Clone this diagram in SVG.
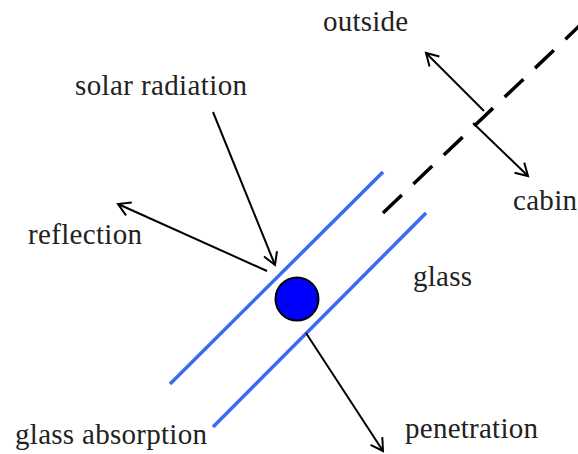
<svg xmlns="http://www.w3.org/2000/svg" width="578" height="454" viewBox="0 0 578 454">
<style>
text{font-family:"Liberation Serif","Times New Roman",serif;font-size:29px;fill:#222}
.arr{stroke:#000;stroke-width:2;fill:none;marker-end:url(#ah)}
.glass{stroke:#3a6af0;stroke-width:3.5;fill:none}
</style>
<defs>
<marker id="ah" markerUnits="userSpaceOnUse" markerWidth="20" markerHeight="20" refX="13" refY="8" orient="auto">
<path d="M1,1 L13,8 L1,15" fill="none" stroke="#000" stroke-width="2"/>
</marker>
</defs>
<rect width="578" height="454" fill="#fff"/>
<g id="glass-layers">
<line class="glass" x1="170" y1="384" x2="383" y2="172"/>
<line class="glass" x1="213" y1="427" x2="426" y2="213"/>
</g>
<g id="boundary">
<line x1="383" y1="213" x2="596" y2="10" stroke="#000" stroke-width="3.5" stroke-dasharray="26 16"/>
</g>
<g id="particle">
<circle cx="297" cy="299" r="21.5" fill="#0000ff" stroke="#000" stroke-width="2"/>
</g>
<g id="connectors">
<line class="arr" x1="213" y1="112" x2="275" y2="265"/>
<line class="arr" x1="267" y1="271" x2="118" y2="204"/>
<line class="arr" x1="306" y1="333" x2="383" y2="451"/>
<line class="arr" x1="484" y1="111" x2="426" y2="53"/>
<line class="arr" x1="473" y1="123" x2="528" y2="176"/>
</g>
<g id="labels">
<text x="323" y="31" textLength="85" lengthAdjust="spacing">outside</text>
<text x="75" y="95" textLength="172" lengthAdjust="spacing">solar radiation</text>
<text x="28" y="244" textLength="114" lengthAdjust="spacing">reflection</text>
<text x="513" y="210" textLength="64" lengthAdjust="spacing">cabin</text>
<text x="413" y="286" textLength="59" lengthAdjust="spacing">glass</text>
<text x="405" y="438" textLength="133" lengthAdjust="spacing">penetration</text>
<text x="15" y="444" textLength="192" lengthAdjust="spacing">glass absorption</text>
</g>
</svg>
